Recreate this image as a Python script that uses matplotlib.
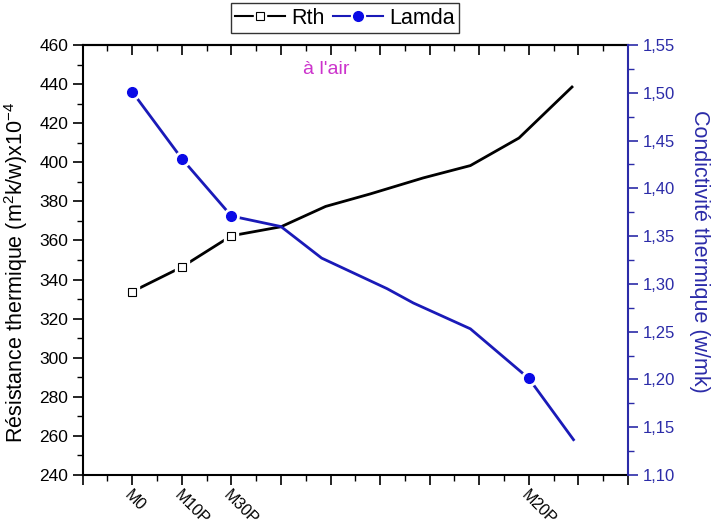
import matplotlib
matplotlib.use("Agg")
import matplotlib.pyplot as plt
from matplotlib.lines import Line2D
from matplotlib.ticker import MultipleLocator, FixedLocator, FuncFormatter

# ---- data ----
tick_positions = [1, 2, 3, 9]
tick_labels = ["M0", "M10P", "M30P", "M20P"]

x_rth = [1, 2, 3, 4.0, 4.9, 5.8, 6.87, 7.82, 8.8, 9.87]
y_rth = [333.8, 346.4, 362.4, 367.0, 377.4, 383.8, 392.0, 398.3, 412.4, 438.5]
rth_marker_idx = [0, 1, 2]

x_lam = [1, 2, 3, 4.0, 4.82, 6.14, 6.67, 7.82, 9.0, 9.9]
y_lam = [1.501, 1.431, 1.371, 1.360, 1.327, 1.295, 1.280, 1.253, 1.201, 1.137]
lam_marker_idx = [0, 1, 2, 8]

BLUE_LINE = "#1a1ab8"
BLUE_MARK = "#0a0ae6"
BLUE_AX = "#2b2ba8"

plt.rcParams["font.family"] = ["Liberation Sans", "DejaVu Sans"]
plt.rcParams["mathtext.fontset"] = "custom"
plt.rcParams["mathtext.rm"] = "Liberation Sans"
plt.rcParams["mathtext.it"] = "Liberation Sans"

fig = plt.figure(figsize=(7.17, 5.2), dpi=100)
ax = fig.add_axes([0.1153, 0.0865, 0.7606, 0.827])
ax2 = ax.twinx()

# Rth
ax.plot(x_rth, y_rth, color="black", lw=2.0, zorder=2)
xr = [x_rth[i] for i in rth_marker_idx]
yr = [y_rth[i] for i in rth_marker_idx]
ax.plot(xr, yr, ls="none", marker="s", ms=10, mfc="white", mec="white", zorder=3)
ax.plot(xr, yr, ls="none", marker="s", ms=6, mfc="white", mec="black", mew=0.8, zorder=4)

# Lamda
ax2.plot(x_lam, y_lam, color=BLUE_LINE, lw=2.0, zorder=2)
xl = [x_lam[i] for i in lam_marker_idx]
yl = [y_lam[i] for i in lam_marker_idx]
ax2.plot(xl, yl, ls="none", marker="o", ms=11, mfc="white", mec="white", zorder=3)
ax2.plot(xl, yl, ls="none", marker="o", ms=7, mfc=BLUE_MARK, mec=BLUE_MARK, zorder=4)

# axes limits
ax.set_xlim(0, 11)
ax.set_ylim(240, 460)
ax2.set_ylim(1.10, 1.55)

# x ticks
ax.xaxis.set_major_locator(FixedLocator(list(range(0, 12))))
ax.xaxis.set_minor_locator(MultipleLocator(0.5))
lab_map = dict(zip(tick_positions, tick_labels))
ax.xaxis.set_major_formatter(FuncFormatter(lambda v, p: lab_map.get(int(round(v)), "")))
ax.tick_params(axis="x", which="major", direction="out", length=7, width=1.2, labelsize=11.5, pad=2)
ax.tick_params(axis="x", which="minor", direction="out", length=4, width=1.0)
for lbl in ax.get_xticklabels():
    lbl.set_rotation(-45)
    lbl.set_ha("left")
    lbl.set_va("top")
    lbl.set_rotation_mode("anchor")

sec = ax.secondary_xaxis("top")
sec.xaxis.set_major_locator(FixedLocator(list(range(0, 12))))
sec.xaxis.set_minor_locator(MultipleLocator(0.5))
sec.tick_params(axis="x", which="major", direction="in", length=7, width=1.2, labeltop=False)
sec.tick_params(axis="x", which="minor", direction="in", length=4, width=1.0)
sec.spines["top"].set_linewidth(1.5)

# left y
ax.yaxis.set_major_locator(MultipleLocator(20))
ax.yaxis.set_minor_locator(MultipleLocator(10))
ax.tick_params(axis="y", which="major", direction="out", length=7, width=1.2, labelsize=12.5)
ax.tick_params(axis="y", which="minor", direction="out", length=4, width=1.0)
ax.set_ylabel("Résistance thermique (m$^2$k/w)x10$^{-4}$", fontsize=15.5)
ax.yaxis.set_label_coords(-0.096, 0.47)

# right y
ax2.yaxis.set_major_locator(MultipleLocator(0.05))
ax2.yaxis.set_minor_locator(MultipleLocator(0.025))
ax2.yaxis.set_major_formatter(FuncFormatter(lambda v, p: f"{v:.2f}".replace(".", ",")))
ax2.tick_params(axis="y", which="major", direction="out", length=7, width=1.2,
                labelsize=12, colors=BLUE_AX)
ax2.tick_params(axis="y", which="minor", direction="out", length=4, width=1.0, colors=BLUE_AX)
ax2.set_ylabel("Condictivité thermique (w/mk)", fontsize=15.5, color=BLUE_AX, rotation=-90)
ax2.yaxis.set_label_coords(1.15, 0.52)

for sp in ["left", "bottom", "top"]:
    ax.spines[sp].set_linewidth(1.5)
ax.spines["right"].set_visible(False)
ax2.spines["right"].set_color(BLUE_AX)
ax2.spines["right"].set_linewidth(1.5)
for sp in ["left", "bottom", "top"]:
    ax2.spines[sp].set_visible(False)

fig.text(326 / 717, 1 - 70 / 520, "à l'air", fontsize=14, color="#cc33cc",
         ha="center", va="center")

# legend
h_rth = (Line2D([], [], color="black", lw=1.5),
         Line2D([], [], ls="none", marker="s", ms=9, mfc="white", mec="white"),
         Line2D([], [], ls="none", marker="s", ms=5.5, mfc="white", mec="black", mew=0.8))
h_lam = (Line2D([], [], color=BLUE_LINE, lw=1.5),
         Line2D([], [], ls="none", marker="o", ms=10, mfc="white", mec="white"),
         Line2D([], [], ls="none", marker="o", ms=7, mfc=BLUE_MARK, mec=BLUE_MARK))
leg = fig.legend([h_rth, h_lam], ["Rth", "Lamda"], loc="center",
                 bbox_to_anchor=(345 / 717, 1 - 18 / 520), ncol=2, fontsize=15.5,
                 frameon=True, fancybox=False, edgecolor="black", handlelength=2.3,
                 handletextpad=0.3, columnspacing=0.4, borderpad=0.2)
leg.get_frame().set_linewidth(1.0)

fig.savefig("out.png", dpi=100)
